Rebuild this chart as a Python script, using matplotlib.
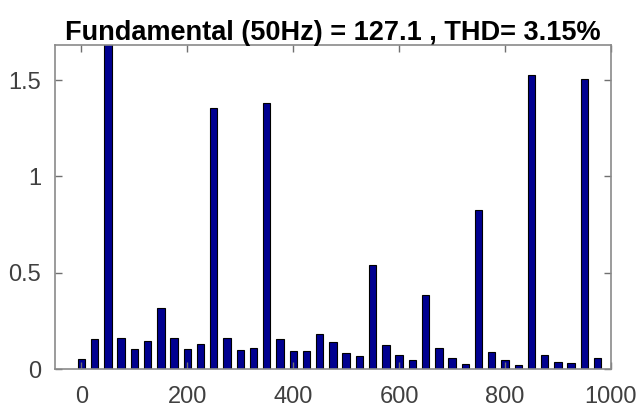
import numpy as np
import matplotlib
matplotlib.use("Agg")
import matplotlib.pyplot as plt

# harmonic spectrum, 25 Hz bins, magnitude in % of fundamental
freqs = np.arange(0, 1000, 25)
mags = [0.055, 0.155, 100.0, 0.162, 0.107, 0.145, 0.318, 0.164, 0.105, 0.130,
        1.357, 0.162, 0.100, 0.112, 1.383, 0.154, 0.093, 0.092, 0.181, 0.142,
        0.083, 0.069, 0.540, 0.126, 0.073, 0.047, 0.383, 0.109, 0.059, 0.029,
        0.826, 0.090, 0.048, 0.024, 1.528, 0.074, 0.036, 0.033, 1.503, 0.060]

fund_amp = 127.1
thd = 3.15

plt.rcParams["font.family"] = ["Liberation Sans", "DejaVu Sans"]

fig = plt.figure(figsize=(6.39, 4.12), dpi=100)
ax = fig.add_axes([0.086, 0.104, 0.870, 0.786])

ax.bar(freqs, mags, width=14, color="#000090", edgecolor="black", linewidth=0.8)

ax.set_xlim(-50, 1000)
ax.set_ylim(0, 1.68)
ax.set_xticks(np.arange(0, 1001, 200))
ax.set_yticks([0, 0.5, 1, 1.5])
ax.set_yticklabels(["0", "0.5", "1", "1.5"])

ax.tick_params(direction="in", length=5, width=1, colors="#707070",
               labelsize=17, labelcolor="#404040", top=True, right=True)
ax.tick_params(axis="x", pad=12)
ax.tick_params(axis="y", pad=10)
for spine in ax.spines.values():
    spine.set_edgecolor("#8a8a8a")
    spine.set_linewidth(1.2)

ax.set_title(f"Fundamental (50Hz) = {fund_amp} , THD= {thd}%",
             fontsize=19.5, fontweight="bold", pad=4)

fig.savefig("out.png", dpi=100)
